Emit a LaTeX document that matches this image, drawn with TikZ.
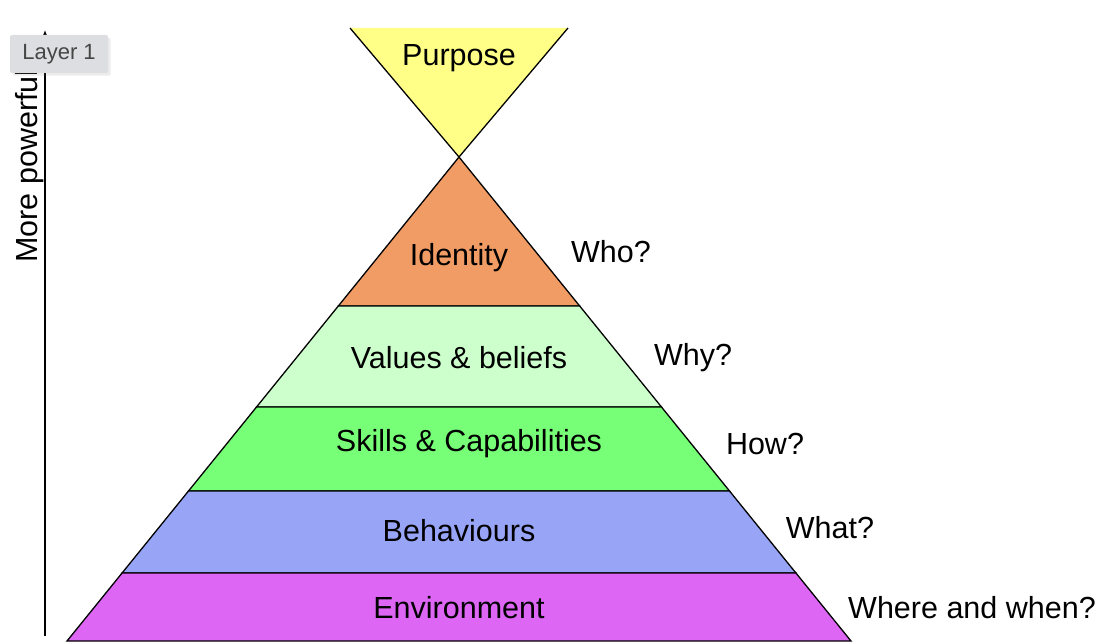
\documentclass[tikz,border=0pt]{standalone}
\usepackage{fontspec}
\setmainfont{Liberation Sans}
\usetikzlibrary{arrows.meta,shadows}
\begin{document}
\begin{tikzpicture}[x=1pt,y=-1pt,
  lay/.style={draw=black,line width=1.3pt},
  lbl/.style={font=\fontsize{30.5}{33}\selectfont,inner sep=0pt}]
\useasboundingbox (0,0) rectangle (1120,644);
\coordinate (apex) at (459,157);
\foreach \y/\n in {306/a,407/b,491/c,573/d,641/e}{
  \coordinate (L\n) at ({459-(\y-157)*0.8099},\y);
  \coordinate (R\n) at ({459+(\y-157)*0.8099},\y);}
\fill[fill={rgb,255:red,255;green,255;blue,136}] (350,28) -- (568,28) -- (apex) -- cycle;
\draw[lay] (350,28) -- (apex) -- (568,28);
\filldraw[lay,fill={rgb,255:red,240;green,156;blue,100}] (apex) -- (Ra) -- (La) -- cycle;
\filldraw[lay,fill={rgb,255:red,204;green,255;blue,204}] (La) -- (Ra) -- (Rb) -- (Lb) -- cycle;
\filldraw[lay,fill={rgb,255:red,119;green,255;blue,119}] (Lb) -- (Rb) -- (Rc) -- (Lc) -- cycle;
\filldraw[lay,fill={rgb,255:red,152;green,164;blue,246}] (Lc) -- (Rc) -- (Rd) -- (Ld) -- cycle;
\filldraw[lay,fill={rgb,255:red,221;green,102;blue,245}] (Ld) -- (Rd) -- (Re) -- (Le) -- cycle;
\node[lbl] (pu) at (459,58) {Purpose};
\node[lbl] (id) at (459,258) {Identity};
\node[lbl] (va) at (459,358) {Values \& beliefs};
\node[lbl] (sk) at (469,444) {Skills \& Capabilities};
\node[lbl] (be) at (459,531) {Behaviours};
\node[lbl] (en) at (459,608) {Environment};
\node[lbl] (q1) at (611,252) {Who?};
\node[lbl] (q2) at (693,358) {Why?};
\node[lbl] (q3) at (765,444) {How?};
\node[lbl] (q4) at (830,528) {What?};
\node[lbl] (q5) at (972,608) {Where and when?};
\coordinate (ab) at (45,636);
\coordinate (at) at (45,30);
\draw[line width=1.3pt,-{Latex[length=6pt,width=5pt]}] (ab) -- (at);
\node[lbl,rotate=90,anchor=south west] (mp) at (44,263) {More powerful};
\node[fill={rgb,255:red,221;green,222;blue,225},rounded corners=2pt,minimum width=98pt,minimum height=38pt,
  text={rgb,255:red,70;green,70;blue,70},font=\fontsize{22}{24}\selectfont,
  drop shadow={opacity=0.15}] (ly) at (59,54) {Layer 1};
\end{tikzpicture}
\end{document}
